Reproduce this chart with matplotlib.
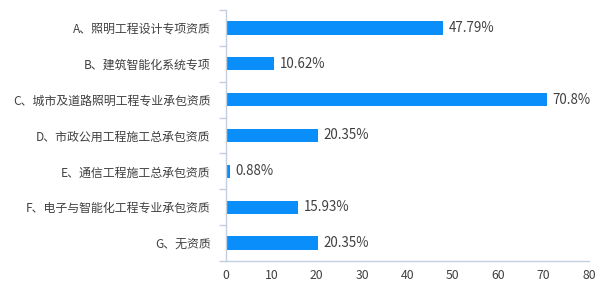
import numpy as np
import matplotlib
matplotlib.use("Agg")
import matplotlib.pyplot as plt

plt.rcParams['font.family'] = ['Noto Sans CJK SC', 'DejaVu Sans']

categories = ["A、照明工程设计专项资质", "B、建筑智能化系统专项", "C、城市及道路照明工程专业承包资质",
              "D、市政公用工程施工总承包资质", "E、通信工程施工总承包资质",
              "F、电子与智能化工程专业承包资质", "G、无资质"]
values = [47.79, 10.62, 70.8, 20.35, 0.88, 15.93, 20.35]
labels = ["47.79%", "10.62%", "70.8%", "20.35%", "0.88%", "15.93%", "20.35%"]
xticks = [0, 10, 20, 30, 40, 50, 60, 70, 80]

bar_color = "#0A8FFA"
axis_color = "#C3CEDF"
text_color = "#404040"

fig = plt.figure(figsize=(6, 3), dpi=100)
ax = fig.add_axes([0.3767, 0.13, 0.605, 0.8367])

y = np.arange(len(categories))
ax.barh(y, values, height=0.37, color=bar_color)
ax.set_ylim(len(categories) - 0.5, -0.5)
ax.set_xlim(0, 80)

for yi, v, lab in zip(y, values, labels):
    ax.annotate(lab, (v, yi), xytext=(4, 0), textcoords="offset points",
                ha="left", va="center", fontsize=9.6, color=text_color)

ax.set_yticks(y)
ax.set_yticklabels(categories)
ax.set_yticks(np.arange(len(categories) + 1) - 0.5, minor=True)
ax.tick_params(axis="y", which="major", length=0, pad=11, labelsize=8.6, labelcolor=text_color)
ax.tick_params(axis="y", which="minor", length=5, color=axis_color, width=1)

ax.set_xticks(xticks)
ax.tick_params(axis="x", length=0, pad=6, labelsize=8.8, labelcolor=text_color)

for side in ["top", "right"]:
    ax.spines[side].set_visible(False)
for side in ["left", "bottom"]:
    ax.spines[side].set_color(axis_color)
    ax.spines[side].set_linewidth(1)

fig.savefig("out.png", dpi=100)
